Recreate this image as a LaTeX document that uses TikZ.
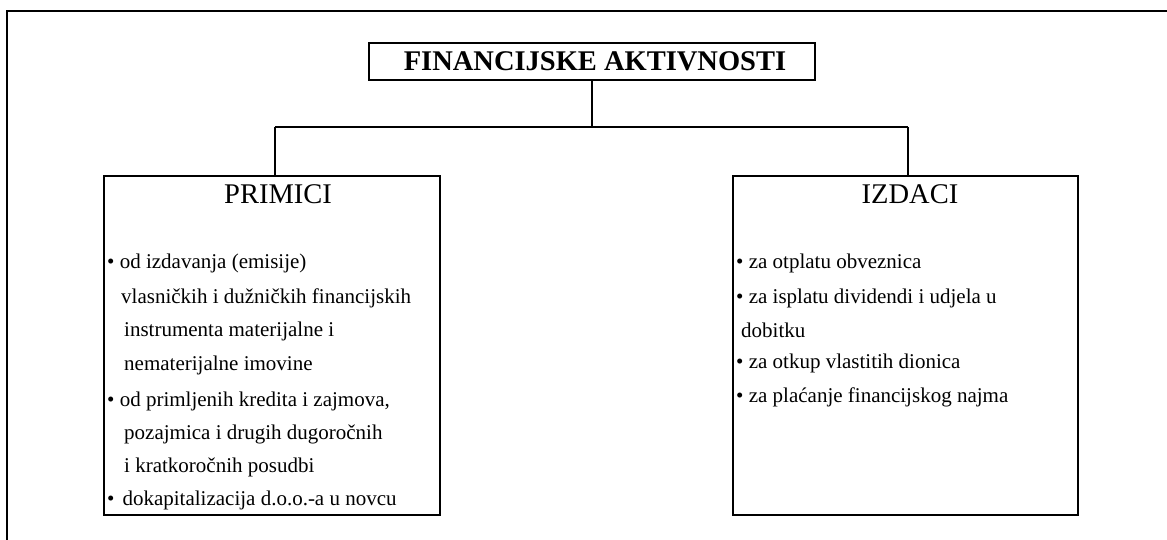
\documentclass[tikz,border=0pt]{standalone}
\usepackage{fontspec}
\setmainfont{Liberation Serif}
\begin{document}
\begin{tikzpicture}[x=1pt,y=-1pt,
  frame/.style={line width=2pt},
  box/.style={draw,line width=2pt,inner sep=0pt},
  title/.style={font=\fontsize{28.5}{28.5}\selectfont\bfseries,anchor=center,inner sep=0pt},
  head/.style={font=\fontsize{28.5}{28.5}\selectfont,anchor=center,inner sep=0pt},
  item/.style={font=\fontsize{21}{21}\selectfont,anchor=west,inner sep=0pt},
  link/.style={line width=2pt}]
\useasboundingbox (0,0) rectangle (1167,540);
% outer frame
\coordinate (fbl) at (7,545);
\coordinate (ftl) at (7,11);
\coordinate (ftr) at (1172,11);
\draw[frame] (fbl) -- (ftl) -- (ftr);
% title
\node[box,minimum width=446pt,minimum height=37pt] (top) at (592,61.5) {};
\node[title] (toptext) at (595,61.5) {FINANCIJSKE AKTIVNOSTI};
% boxes
\node[box,minimum width=336pt,minimum height=339pt] (left) at (272,345.5) {};
\node[box,minimum width=345pt,minimum height=339pt] (right) at (905.5,345.5) {};
\node[head] (lh) at (278,194) {PRIMICI};
\node[head] (rh) at (910,194) {IZDACI};
% connectors
\coordinate (mid) at (592,127);
\coordinate (ml) at (275,127);
\coordinate (mr) at (908,127);
\draw[link] (top.south -| mid) -- (mid);
\draw[link] (ml) -- (mr);
\draw[link] (ml) -- (ml |- left.north);
\draw[link] (mr) -- (mr |- right.north);
% left items
\node[item] (l1) at (107,263) {\textbullet{} od izdavanja (emisije)};
\node[item] (l2) at (121,298) {vlasničkih i dužničkih financijskih};
\node[item] (l3) at (124,331) {instrumenta materijalne i};
\node[item] (l4) at (124,365) {nematerijalne imovine};
\node[item] (l5) at (107,401) {\textbullet{} od primljenih kredita i zajmova,};
\node[item] (l6) at (124,434) {pozajmica i drugih dugoročnih};
\node[item] (l7) at (124,467) {i kratkoročnih posudbi};
\node[item] (l8) at (107,500) {\textbullet{}\hspace{8pt}dokapitalizacija d.o.o.-a u novcu};
% right items
\node[item] (r1) at (736,263) {\textbullet{} za otplatu obveznica};
\node[item] (r2) at (736,298) {\textbullet{} za isplatu dividendi i udjela u};
\node[item] (r3) at (741,330) {dobitku};
\node[item] (r4) at (736,363) {\textbullet{} za otkup vlastitih dionica};
\node[item] (r5) at (736,397) {\textbullet{} za plaćanje financijskog najma};
\end{tikzpicture}
\end{document}
